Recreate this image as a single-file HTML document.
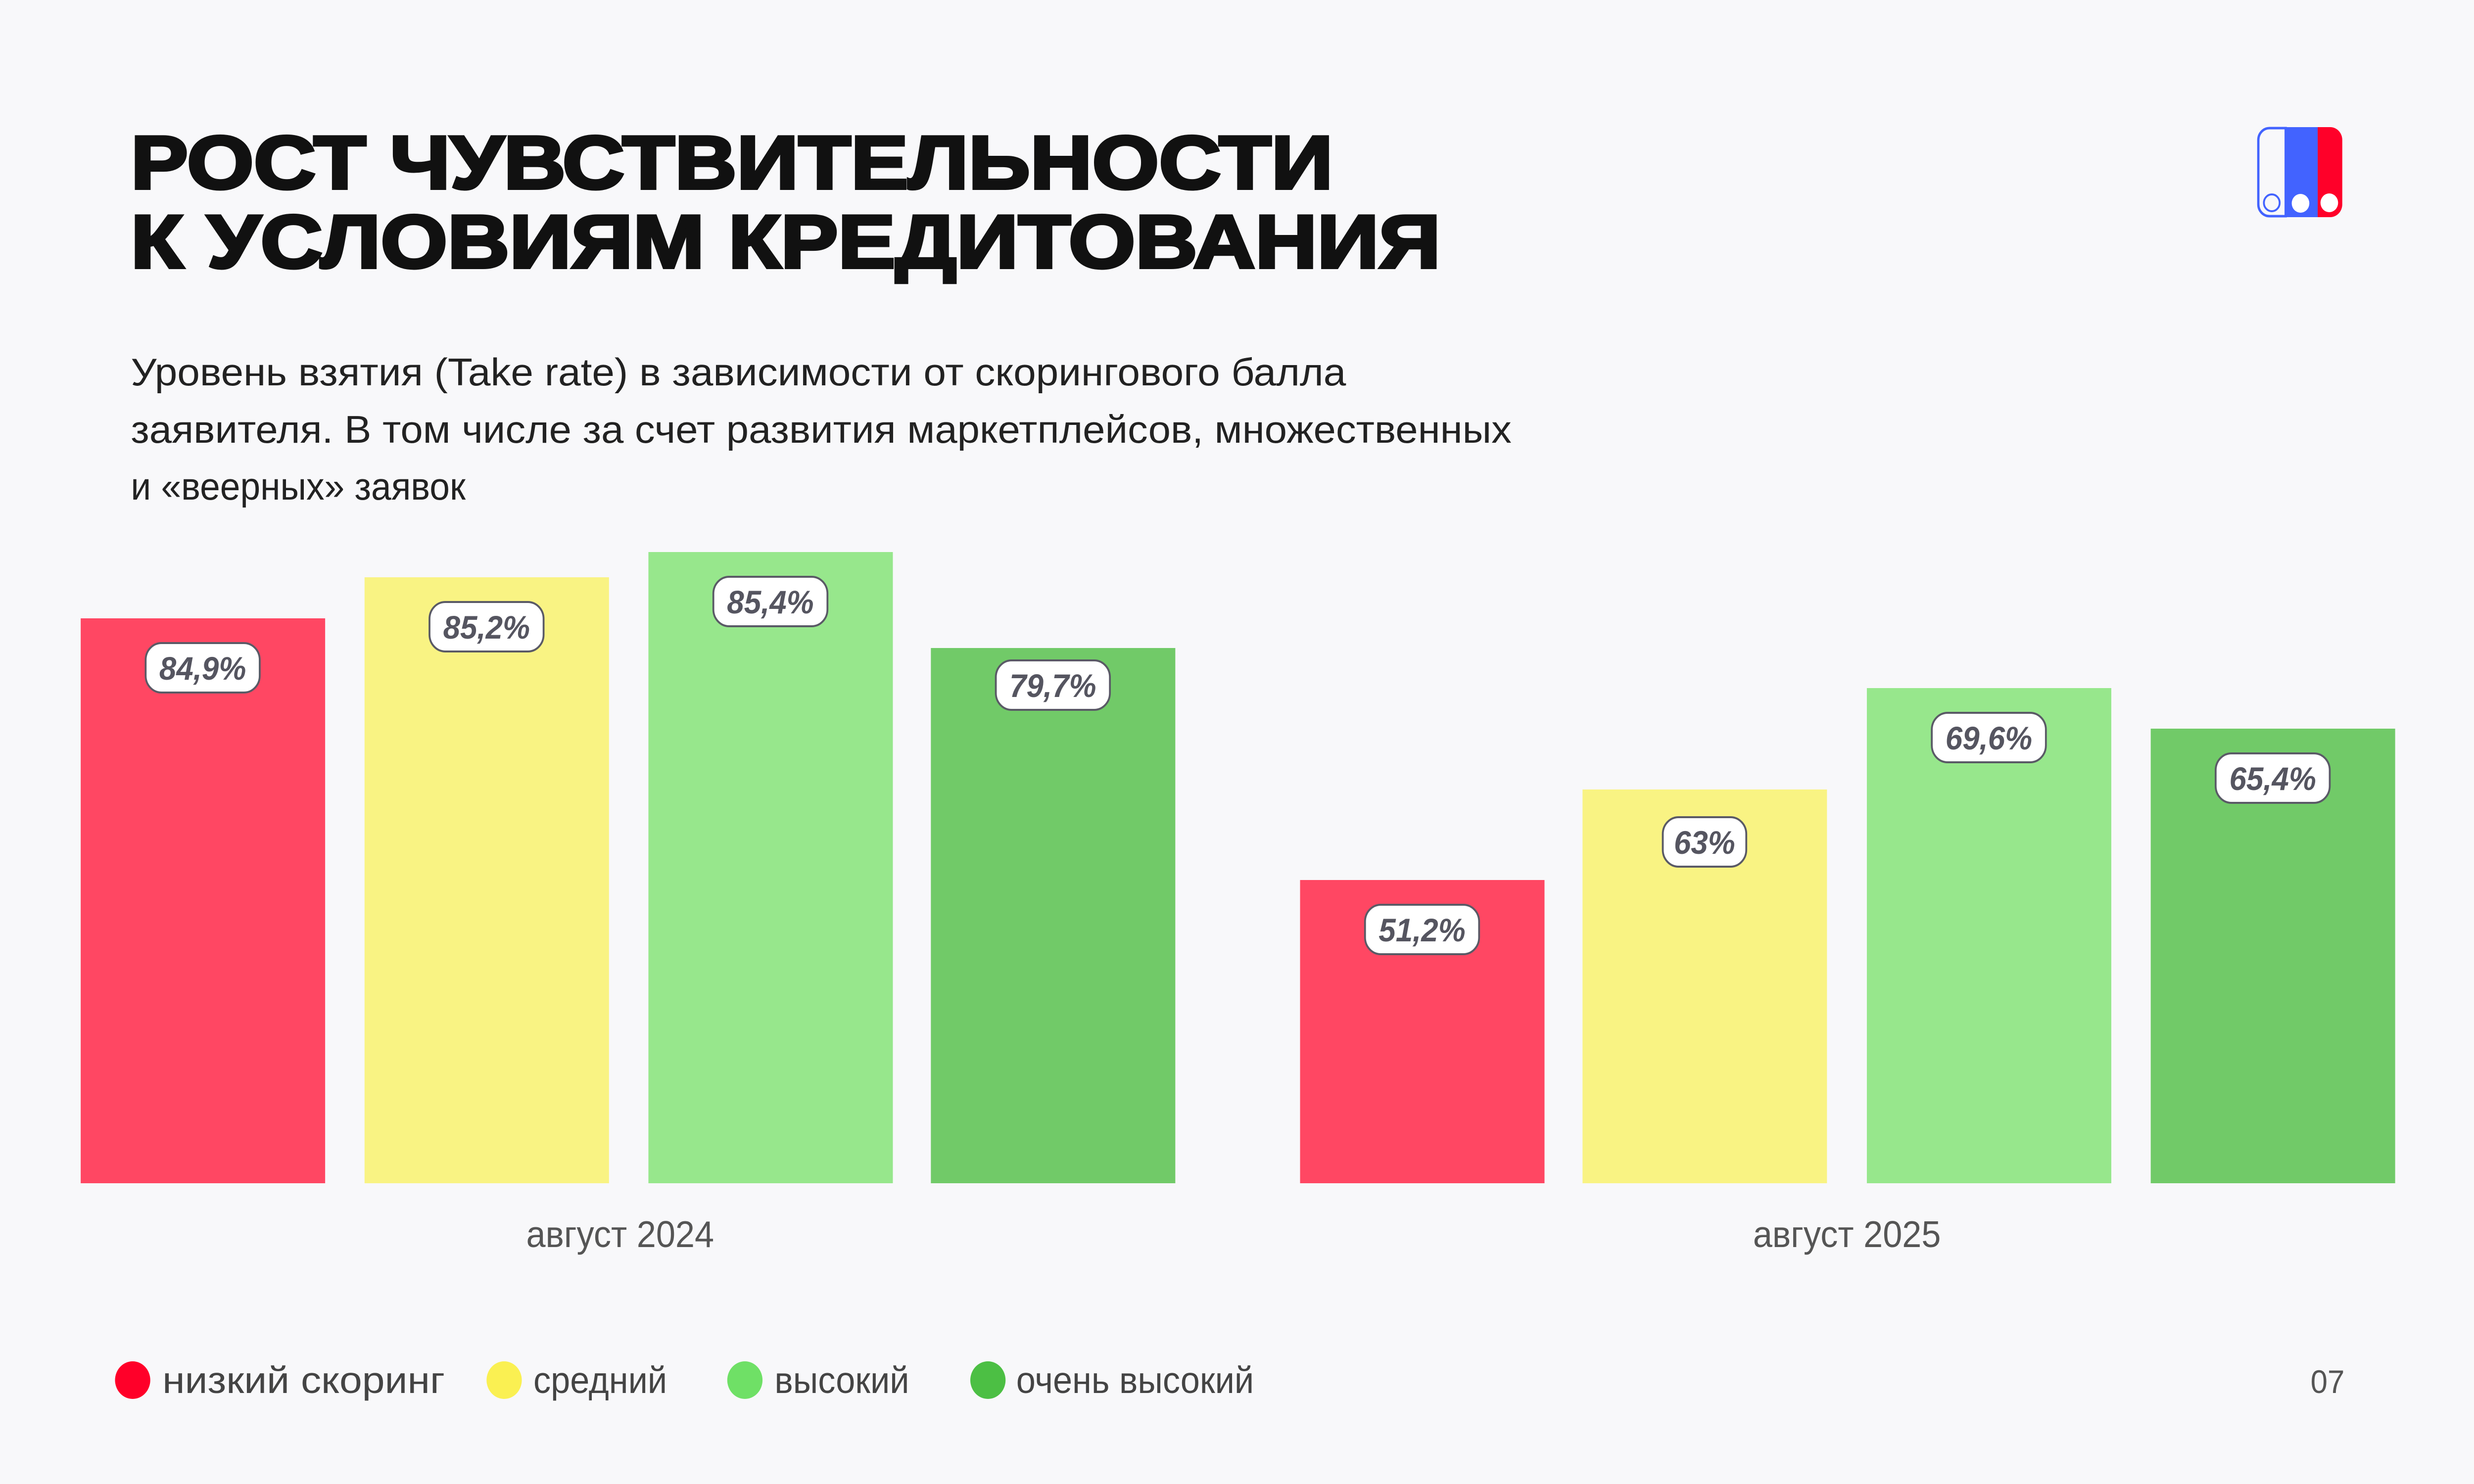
<!DOCTYPE html>
<html><head><meta charset="utf-8"><style>html,body{margin:0;padding:0;background:#F8F8FA;overflow:hidden;width:100%;height:100%}svg{display:block;width:100vw;height:100vh}</style></head>
<body>
<svg viewBox="0 0 5334 3000" preserveAspectRatio="none" xmlns="http://www.w3.org/2000/svg" font-family="Liberation Sans, sans-serif">
<rect width="5334" height="3000" fill="#F8F8FA"/>
<g font-weight="900" font-size="152" fill="#111">
<text x="282" y="381" textLength="2592" lengthAdjust="spacingAndGlyphs" stroke="#111" stroke-width="6">РОСТ ЧУВСТВИТЕЛЬНОСТИ</text>
<text x="282" y="541" textLength="2824" lengthAdjust="spacingAndGlyphs" stroke="#111" stroke-width="6">К УСЛОВИЯМ КРЕДИТОВАНИЯ</text>
</g>
<g font-size="78" fill="#222">
<text x="282" y="779" textLength="2620" lengthAdjust="spacingAndGlyphs">Уровень взятия (Take rate) в зависимости от скорингового балла</text>
<text x="282" y="895" textLength="2977" lengthAdjust="spacingAndGlyphs">заявителя. В том числе за счет развития маркетплейсов, множественных</text>
<text x="282" y="1010">и «веерных» заявок</text>
</g>
<g>
<rect x="4867" y="257" width="183" height="182" rx="26" fill="#FF0029"/>
<rect x="4867" y="257" width="130" height="182" rx="26" fill="#4263FF"/>
<rect x="4930" y="257" width="67" height="182" fill="#4263FF"/>
<path d="M4928 259 H4893 A24 24 0 0 0 4869 283 V413 A24 24 0 0 0 4893 437 H4928 Z" fill="#F8F8FA" stroke="#4263FF" stroke-width="5"/>
<circle cx="4898" cy="410" r="17" fill="none" stroke="#4263FF" stroke-width="4"/>
<circle cx="4960" cy="411" r="19" fill="#fff"/>
<circle cx="5022" cy="410" r="19" fill="#fff"/>
</g>
<rect x="174" y="1250" width="527" height="1142" fill="#FF4763"/>
<rect x="786" y="1167" width="527" height="1225" fill="#F9F383"/>
<rect x="1398" y="1116" width="527" height="1276" fill="#97E78C"/>
<rect x="2007" y="1310" width="527" height="1082" fill="#71CA68"/>
<rect x="2803" y="1779" width="527" height="613" fill="#FF4763"/>
<rect x="3412" y="1596" width="527" height="796" fill="#F9F383"/>
<rect x="4025" y="1391" width="527" height="1001" fill="#97E78C"/>
<rect x="4637" y="1473" width="527" height="919" fill="#71CA68"/>
<g font-size="66" font-style="italic" font-weight="bold" fill="#555560" text-anchor="middle">
<rect x="314" y="1300" width="246" height="100" rx="34" fill="#fff" stroke="#5a5a66" stroke-width="4"/><text x="437" y="1374">84,9%</text>
<rect x="926" y="1217" width="246" height="100" rx="34" fill="#fff" stroke="#5a5a66" stroke-width="4"/><text x="1049" y="1291">85,2%</text>
<rect x="1538" y="1166" width="246" height="100" rx="34" fill="#fff" stroke="#5a5a66" stroke-width="4"/><text x="1661" y="1240">85,4%</text>
<rect x="2147" y="1335" width="246" height="100" rx="34" fill="#fff" stroke="#5a5a66" stroke-width="4"/><text x="2270" y="1409">79,7%</text>
<rect x="2943" y="1829" width="246" height="100" rx="34" fill="#fff" stroke="#5a5a66" stroke-width="4"/><text x="3066" y="1903">51,2%</text>
<rect x="3585" y="1652" width="180" height="100" rx="34" fill="#fff" stroke="#5a5a66" stroke-width="4"/><text x="3675" y="1726">63%</text>
<rect x="4165" y="1441" width="246" height="100" rx="34" fill="#fff" stroke="#5a5a66" stroke-width="4"/><text x="4288" y="1515">69,6%</text>
<rect x="4777" y="1523" width="246" height="100" rx="34" fill="#fff" stroke="#5a5a66" stroke-width="4"/><text x="4900" y="1597">65,4%</text>
</g>
<g font-size="75" fill="#555" text-anchor="middle">
<text x="1337" y="2521">август 2024</text>
<text x="3982" y="2521">август 2025</text>
</g>
<g font-size="75" fill="#444">
<circle cx="286" cy="2790" r="38" fill="#FF0029"/><text x="350" y="2816" textLength="609" lengthAdjust="spacingAndGlyphs">низкий скоринг</text>
<circle cx="1087" cy="2790" r="38" fill="#FAF052"/><text x="1150" y="2816">средний</text>
<circle cx="1606" cy="2790" r="38" fill="#6FE066"/><text x="1670" y="2816">высокий</text>
<circle cx="2130" cy="2790" r="38" fill="#4CBF44"/><text x="2191" y="2816">очень высокий</text>
</g>
<text x="5055" y="2816" font-size="66" fill="#555" text-anchor="end">07</text>
</svg>
</body></html>
